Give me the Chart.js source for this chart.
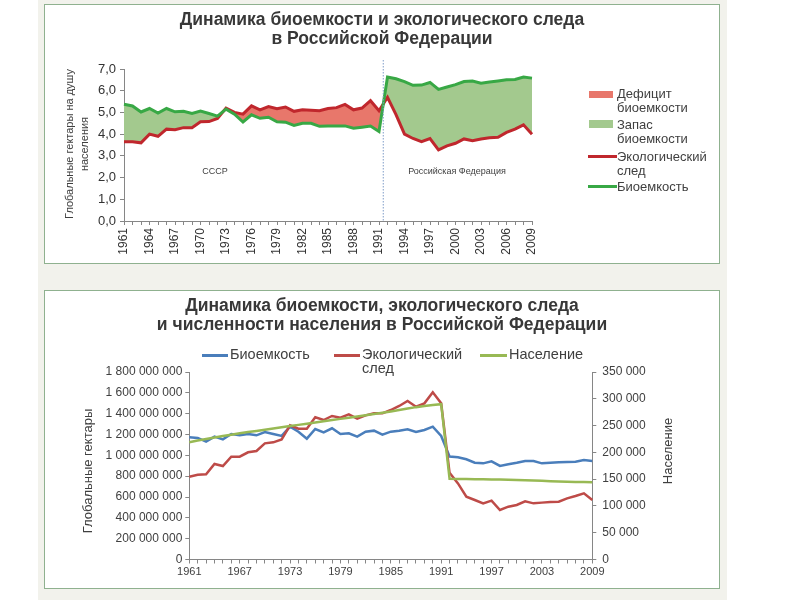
<!DOCTYPE html>
<html><head><meta charset="utf-8">
<script src="https://cdn.jsdelivr.net/npm/chart.js@4.4.0/dist/chart.umd.min.js"></script>
<style>
body{margin:0;width:800px;height:600px;background:#fff;position:relative;font-family:"Liberation Sans",Arial,sans-serif;overflow:hidden}
.band{position:absolute;left:38px;top:0;width:689px;height:600px;background:#F2F2EC}
.panel{position:absolute;background:#fff;border:1.5px solid #8FB18F;box-sizing:border-box}
.t{position:absolute;white-space:nowrap;color:#404040}
.title{font-weight:bold;color:#383838;text-align:center;left:44px;width:676px}
.sw{position:absolute}
canvas{position:absolute}
</style></head>
<body>
<div class="band"></div>
<div class="panel" style="left:44px;top:4px;width:676px;height:260px"></div>
<div class="panel" style="left:44px;top:290px;width:676px;height:299px"></div>

<canvas id="c1" width="674" height="257" style="left:45px;top:5px;width:674px;height:257px"></canvas>
<canvas id="c2" width="674" height="296" style="left:45px;top:291px;width:674px;height:296px"></canvas>

<!-- top chart texts -->
<div class="t title" style="top:10px;font-size:17.5px;line-height:19px">Динамика биоемкости и экологического следа<br>в Российской Федерации</div>
<div class="t" style="left:-3px;top:129px;width:160px;text-align:center;font-size:11px;line-height:15px;transform:rotate(-90deg)">Глобальные гектары на душу<br>населения</div>
<div class="t" style="left:185px;top:166px;width:60px;text-align:center;font-size:9px">СССР</div>
<div class="t" style="left:407px;top:166px;width:100px;text-align:center;font-size:9px">Российская Федерация</div>

<div class="sw" style="left:589px;top:91px;width:24px;height:7px;background:#E8776B"></div>
<div class="t" style="left:617px;top:87px;font-size:13px;line-height:14px">Дефицит<br>биоемкости</div>
<div class="sw" style="left:589px;top:120px;width:24px;height:8px;background:#A3C98E"></div>
<div class="t" style="left:617px;top:118px;font-size:13px;line-height:14px">Запас<br>биоемкости</div>
<div class="sw" style="left:588px;top:155px;width:29px;height:3px;background:#C0272D"></div>
<div class="t" style="left:617px;top:150px;font-size:13px;line-height:14px">Экологический<br>след</div>
<div class="sw" style="left:588px;top:185px;width:29px;height:3px;background:#38A845"></div>
<div class="t" style="left:617px;top:180px;font-size:13px;line-height:14px">Биоемкость</div>

<!-- bottom chart texts -->
<div class="t title" style="top:296px;font-size:17.5px;line-height:19px">Динамика биоемкости, экологического следа<br>и численности населения в Российской Федерации</div>
<div class="sw" style="left:202px;top:354px;width:26px;height:2.5px;background:#4A7EBB"></div>
<div class="t" style="left:230px;top:347px;font-size:14.5px;line-height:14px">Биоемкость</div>
<div class="sw" style="left:334px;top:354px;width:26px;height:2.5px;background:#BE4B48"></div>
<div class="t" style="left:362px;top:347px;font-size:14.5px;line-height:14px">Экологический<br>след</div>
<div class="sw" style="left:480px;top:354px;width:27px;height:2.5px;background:#98B954"></div>
<div class="t" style="left:509px;top:347px;font-size:14.5px;line-height:14px">Население</div>
<div class="t" style="left:18px;top:463px;width:140px;text-align:center;font-size:13px;line-height:16px;transform:rotate(-90deg)">Глобальные гектары</div>
<div class="t" style="left:608px;top:443px;width:120px;text-align:center;font-size:13px;line-height:16px;transform:rotate(-90deg)">Население</div>

<script>
// ---------- DATA ----------
const years = ['1961','1962','1963','1964','1965','1966','1967','1968','1969','1970',
  '1971','1972','1973','1974','1975','1976','1977','1978','1979','1980',
  '1981','1982','1983','1984','1985','1986','1987','1988','1989','1990',
  '1991','1992','1993','1994','1995','1996','1997','1998','1999','2000',
  '2001','2002','2003','2004','2005','2006','2007','2008','2009'];

// Chart 1: global hectares per capita
const bioPerCapita = [5.38,5.30,5.02,5.18,4.97,5.18,5.03,5.05,4.95,5.06,
  4.95,4.83,5.15,4.92,4.56,4.89,4.73,4.78,4.57,4.55,
  4.40,4.50,4.50,4.36,4.37,4.38,4.38,4.27,4.32,4.37,
  4.12,6.63,6.55,6.42,6.25,6.26,6.38,6.06,6.17,6.28,
  6.42,6.45,6.35,6.40,6.45,6.50,6.52,6.63,6.58];
const footprintPerCapita = [3.65,3.65,3.60,4.00,3.90,4.23,4.20,4.30,4.30,4.57,
  4.58,4.72,5.20,5.00,4.92,5.30,5.12,5.27,5.17,5.25,
  5.05,5.12,5.10,5.08,5.18,5.22,5.37,5.12,5.20,5.54,
  5.08,5.70,4.90,4.00,3.80,3.65,3.80,3.28,3.46,3.58,
  3.78,3.70,3.78,3.83,3.86,4.08,4.23,4.43,4.00];
const dividerBetween = ['1991','1992'];

// Chart 2: totals (global hectares) and population (thousands)
const bioTotal = [1173e6,1167e6,1131e6,1180e6,1153e6,1205e6,1192e6,1205e6,1192e6,1224e6,
  1205e6,1186e6,1275e6,1227e6,1160e6,1253e6,1221e6,1260e6,1205e6,1211e6,
  1180e6,1227e6,1237e6,1199e6,1227e6,1237e6,1250e6,1224e6,1243e6,1275e6,
  1186e6,988e6,981e6,962e6,929e6,923e6,942e6,898e6,914e6,929e6,
  946e6,946e6,923e6,929e6,933e6,936e6,939e6,955e6,946e6];
const footprintTotal = [795e6,814e6,818e6,917e6,897e6,987e6,987e6,1029e6,1042e6,1115e6,
  1125e6,1153e6,1288e6,1256e6,1256e6,1365e6,1339e6,1378e6,1362e6,1394e6,
  1352e6,1384e6,1403e6,1403e6,1435e6,1474e6,1522e6,1467e6,1499e6,1605e6,
  1499e6,832e6,731e6,603e6,571e6,539e6,565e6,475e6,507e6,523e6,
  558e6,539e6,546e6,552e6,555e6,587e6,610e6,635e6,571e6];
const population = [219000,222000,225000,227800,230500,233000,235500,237800,240000,242200,
  244400,246700,249000,251300,253600,255900,258100,260300,262500,264700,
  266900,269100,271400,273900,276400,278900,281700,284400,286600,288600,
  290000,150500,150400,150200,150000,149800,149500,149200,148900,148500,
  148000,147400,146800,146200,145700,145200,144800,144500,144200];

// ---------- HELPERS ----------
const FONT = '"Liberation Sans", Arial, sans-serif';
Chart.defaults.font.family = FONT;
Chart.defaults.color = '#404040';
const spaced = v => String(Math.round(v)).replace(/\B(?=(\d{3})+(?!\d))/g, ' ');
const AXIS = '#868686';

const dividerPlugin = {
  id: 'divider',
  afterDatasetsDraw(chart) {
    const xs = chart.scales.x;
    const a = xs.getPixelForValue(years.indexOf(dividerBetween[0]));
    const b = xs.getPixelForValue(years.indexOf(dividerBetween[1]));
    const px = (a + b) / 2;
    const ctx = chart.ctx;
    ctx.save();
    ctx.strokeStyle = '#7F9CC8';
    ctx.lineWidth = 1;
    ctx.setLineDash([1.5, 1.5]);
    ctx.beginPath();
    ctx.moveTo(px, chart.chartArea.top - 9);
    ctx.lineTo(px, chart.chartArea.bottom);
    ctx.stroke();
    ctx.restore();
  }
};

// ---------- CHART 1 ----------
new Chart(document.getElementById('c1'), {
  type: 'line',
  data: {
    labels: years,
    datasets: [
      { label: 'Экологический след', data: footprintPerCapita, borderColor: '#C0272D', borderWidth: 3,
        pointRadius: 0, tension: 0, fill: { target: 1, above: '#E8776B', below: '#A3C98E' }, order: 2 },
      { label: 'Биоемкость', data: bioPerCapita, borderColor: '#38A845', borderWidth: 3,
        pointRadius: 0, tension: 0, fill: false, order: 1 }
    ]
  },
  options: {
    responsive: false, animation: false,
    layout: { padding: { left: 0, right: 187, top: 64, bottom: 0 } },
    plugins: { legend: { display: false }, tooltip: { enabled: false }, filler: { drawTime: 'beforeDatasetsDraw' } },
    scales: {
      x: {
        offset: false,
        grid: { drawOnChartArea: false, drawTicks: true, tickLength: 4, color: AXIS },
        border: { color: AXIS },
        ticks: { autoSkip: false, minRotation: 90, maxRotation: 90, padding: 3, color: '#333',
                 font: { size: 12 }, callback: (v, i) => (i % 3 === 0 ? years[i] : '') },
        afterFit: s => { s.height = 41; }
      },
      y: {
        min: 0, max: 7,
        grid: { drawOnChartArea: false, tickLength: 4, color: AXIS },
        border: { color: AXIS },
        ticks: { stepSize: 1, padding: 4, color: '#333', font: { size: 13 },
                 callback: v => Number(v).toFixed(1).replace('.', ',') },
        afterFit: s => { s.width = 79; }
      }
    }
  },
  plugins: [dividerPlugin]
});

// ---------- CHART 2 ----------
new Chart(document.getElementById('c2'), {
  type: 'line',
  data: {
    labels: years,
    datasets: [
      { label: 'Биоемкость', data: bioTotal, borderColor: '#4A7EBB', borderWidth: 2.5,
        pointRadius: 0, tension: 0, yAxisID: 'y', order: 3 },
      { label: 'Экологический след', data: footprintTotal, borderColor: '#BE4B48', borderWidth: 2.5,
        pointRadius: 0, tension: 0, yAxisID: 'y', order: 2 },
      { label: 'Население', data: population, borderColor: '#98B954', borderWidth: 2.5,
        pointRadius: 0, tension: 0, yAxisID: 'y2', order: 1 }
    ]
  },
  options: {
    responsive: false, animation: false,
    layout: { padding: { left: 0, right: 36.7, top: 81, bottom: 0 } },
    plugins: { legend: { display: false }, tooltip: { enabled: false } },
    scales: {
      x: {
        offset: false,
        grid: { drawOnChartArea: false, tickLength: 4, color: AXIS },
        border: { color: AXIS },
        ticks: { autoSkip: false, maxRotation: 0, minRotation: 0, padding: 2, font: { size: 11 },
                 callback: (v, i) => (i % 6 === 0 ? years[i] : '') },
        afterFit: s => { s.height = 27.5; }
      },
      y: {
        position: 'left', min: 0, max: 1800000000,
        grid: { drawOnChartArea: false, tickLength: 4, color: AXIS },
        border: { color: AXIS },
        ticks: { stepSize: 200000000, padding: 3, font: { size: 12 }, callback: v => spaced(v) },
        afterFit: s => { s.width = 144.3; }
      },
      y2: {
        position: 'right', min: 0, max: 350000,
        grid: { drawOnChartArea: false, tickLength: 4, color: AXIS },
        border: { color: AXIS },
        ticks: { stepSize: 50000, padding: 6, font: { size: 12 }, callback: v => spaced(v) },
        afterFit: s => { s.width = 90; }
      }
    }
  }
});
</script>
</body></html>
